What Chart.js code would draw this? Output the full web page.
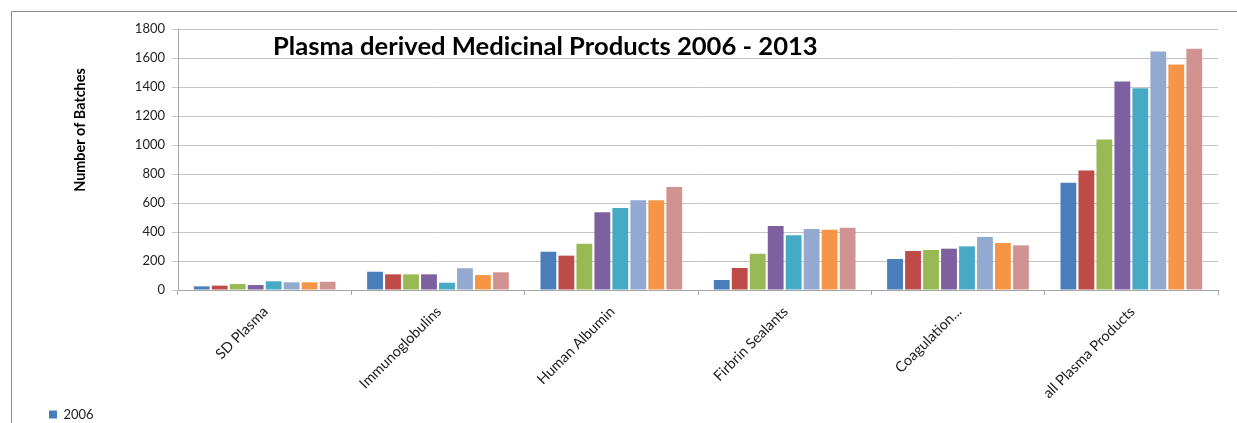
<!DOCTYPE html>
<html>
<head>
<meta charset="utf-8">
<script src="https://cdn.jsdelivr.net/npm/chart.js@4/dist/chart.umd.min.js"></script>
<style>
  html, body { margin: 0; padding: 0; background: #fff; overflow: hidden; }
  #rahmen { position: absolute; left: 11px; top: 11px; width: 1300px; height: 500px;
            border-left: 1px solid #8c8c8c; border-top: 1px solid #8c8c8c; }
  #grafik { position: absolute; left: 0; top: 0; }
</style>
</head>
<body>
<div id="rahmen"></div>
<canvas id="grafik" width="1237" height="423"></canvas>
<script>
const kategorien = ["SD Plasma", "Immunoglobulins", "Human Albumin", "Firbrin Sealants", "Coagulation...", "all Plasma Products"];
const jahre = ["2006", "2007", "2008", "2009", "2010", "2011", "2012", "2013"];

const y2006 = [25, 126, 264, 69, 214, 740];
const y2007 = [30, 108, 237, 152, 269, 825];
const y2008 = [41, 108, 319, 250, 276, 1038];
const y2009 = [34, 108, 536, 441, 285, 1438];
const y2010 = [60, 50, 566, 377, 301, 1392];
const y2011 = [53, 150, 619, 421, 366, 1645];
const y2012 = [53, 103, 619, 416, 324, 1555];
const y2013 = [57, 122, 710, 430, 308, 1663];

const farben = ["#4A7EBB", "#BE4B48", "#98B954", "#7D60A0", "#46AAC5", "#93A9CF", "#F69545", "#D19392"];
const werte = [y2006, y2007, y2008, y2009, y2010, y2011, y2012, y2013];

const titel = "Plasma derived Medicinal Products 2006 - 2013";
const achsenTitel = "Number of Batches";

// Titel und Achsentitel liegen frei im Diagramm, wie im Original
const beschriftung = {
    id: "beschriftung",
    afterDraw(chart) {
        const ctx = chart.ctx;
        ctx.save();
        ctx.fillStyle = "#000";
        ctx.font = "bold 22px Lato";
        let groesse = 22 * 545 / ctx.measureText(titel).width;
        ctx.font = "bold " + groesse.toFixed(1) + "px Lato";
        ctx.textAlign = "left";
        ctx.textBaseline = "alphabetic";
        ctx.fillText(titel, 273, 55);

        ctx.translate(80, 130);
        ctx.rotate(-Math.PI / 2);
        ctx.font = "bold 12px Lato";
        groesse = 12 * 124 / ctx.measureText(achsenTitel).width;
        ctx.font = "bold " + groesse.toFixed(1) + "px Lato";
        ctx.textAlign = "center";
        ctx.textBaseline = "middle";
        ctx.fillText(achsenTitel, 0, 0);
        ctx.restore();
    }
};

new Chart(document.getElementById("grafik"), {
    type: "bar",
    data: {
        labels: kategorien,
        datasets: jahre.map((jahr, i) => ({
            label: jahr,
            data: werte[i],
            backgroundColor: farben[i],
            borderWidth: 0,
            barPercentage: 0.88,
            categoryPercentage: 0.83
        }))
    },
    options: {
        responsive: false,
        animation: false,
        layout: { padding: { left: 43, top: 29, right: 19, bottom: -8 } },
        plugins: {
            title: { display: false },
            tooltip: { enabled: false },
            legend: {
                position: "bottom",
                align: "start",
                labels: {
                    filter: item => item.datasetIndex === 0,
                    boxWidth: 8,
                    boxHeight: 8,
                    padding: 6,
                    color: "#222",
                    font: { family: "Lato", size: 13 }
                }
            }
        },
        scales: {
            x: {
                afterFit: s => { s.height = 112; },
                grid: { drawOnChartArea: false, drawTicks: true, tickLength: 5, color: "#a6a6a6", offset: true },
                border: { color: "#a6a6a6" },
                ticks: {
                    minRotation: 45,
                    maxRotation: 45,
                    autoSkip: false,
                    padding: 8,
                    labelOffset: 1,
                    color: "#222",
                    font: { family: "Lato", size: 14.5 }
                }
            },
            y: {
                min: 0,
                max: 1800,
                afterFit: s => { s.width = 135; },
                grid: { color: "#c4c4c4", tickLength: 6 },
                border: { color: "#a6a6a6" },
                ticks: {
                    stepSize: 200,
                    padding: 7,
                    color: "#222",
                    font: { family: "Lato", size: 13 },
                    callback: wert => String(wert)
                }
            }
        }
    },
    plugins: [beschriftung]
});
</script>
</body>
</html>
